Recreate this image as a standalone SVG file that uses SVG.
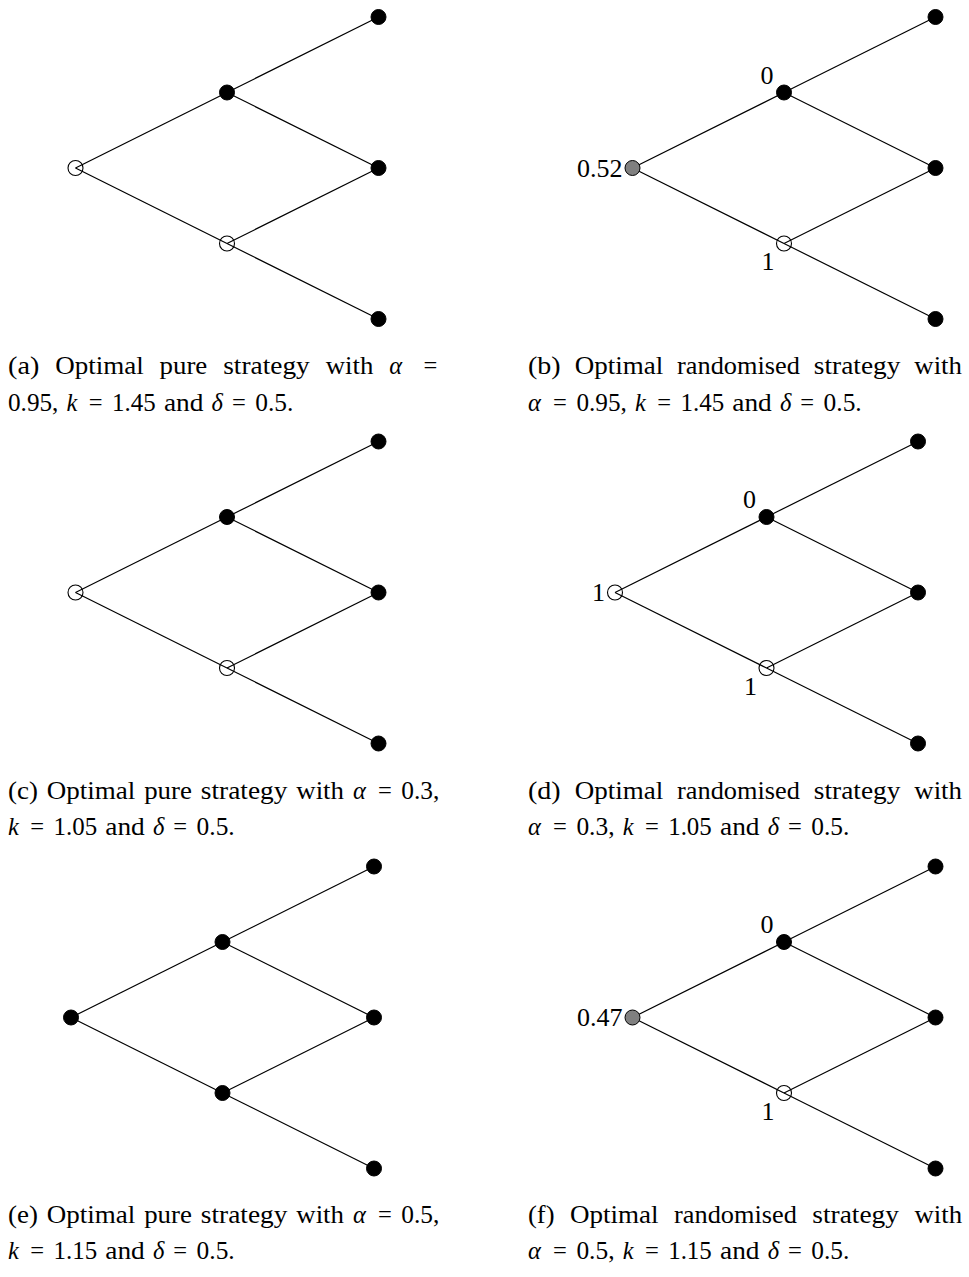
<svg xmlns="http://www.w3.org/2000/svg" width="969" height="1277" viewBox="0 0 969 1277">
<style>
.e{stroke:#000;stroke-width:1.2;fill:none}
.f{fill:#000;stroke:#000;stroke-width:1}
.h{fill:none;stroke:#000;stroke-width:1.1}
.g{fill:#808080;stroke:#000;stroke-width:1}
text{font-family:"Liberation Serif","Times New Roman",serif;fill:#000}
.cap{font-size:24.5px}
.lbl{font-size:26px}
.m{font-style:italic}
</style>
<defs>
<g id="edges">
<line x1="0" y1="0" x2="151.5" y2="-75.5"/>
<line x1="0" y1="0" x2="151.5" y2="75.5"/>
<line x1="151.5" y1="-75.5" x2="303" y2="-151"/>
<line x1="151.5" y1="-75.5" x2="303" y2="0"/>
<line x1="151.5" y1="75.5" x2="303" y2="0"/>
<line x1="151.5" y1="75.5" x2="303" y2="151"/>
</g>
</defs>

<!-- Panel a -->
<g id="panel-a" transform="translate(75.5,168)">
<g id="a-connectors" class="e"><use href="#edges"/></g>
<g id="a-root"><circle class="h" cx="0" cy="0" r="7.5"/></g>
<g id="a-up"><circle class="f" cx="151.5" cy="-75.5" r="7.5"/></g>
<g id="a-down"><circle class="h" cx="151.5" cy="75.5" r="7.5"/></g>
<g id="a-uu"><circle class="f" cx="303" cy="-151" r="7.5"/></g>
<g id="a-ud"><circle class="f" cx="303" cy="0" r="7.5"/></g>
<g id="a-dd"><circle class="f" cx="303" cy="151" r="7.5"/></g>
</g>

<!-- Panel b -->
<g id="panel-b" transform="translate(632.5,168)">
<g id="b-connectors" class="e"><use href="#edges"/></g>
<g id="b-root"><circle class="g" cx="0" cy="0" r="7.5"/><text class="lbl" x="-10" y="8.5" text-anchor="end">0.52</text></g>
<g id="b-up"><circle class="f" cx="151.5" cy="-75.5" r="7.5"/><text class="lbl" x="134.5" y="-84.5" text-anchor="middle">0</text></g>
<g id="b-down"><circle class="h" cx="151.5" cy="75.5" r="7.5"/><text class="lbl" x="135.5" y="102" text-anchor="middle">1</text></g>
<g id="b-uu"><circle class="f" cx="303" cy="-151" r="7.5"/></g>
<g id="b-ud"><circle class="f" cx="303" cy="0" r="7.5"/></g>
<g id="b-dd"><circle class="f" cx="303" cy="151" r="7.5"/></g>
</g>

<!-- Panel c -->
<g id="panel-c" transform="translate(75.5,592.5)">
<g id="c-connectors" class="e"><use href="#edges"/></g>
<g id="c-root"><circle class="h" cx="0" cy="0" r="7.5"/></g>
<g id="c-up"><circle class="f" cx="151.5" cy="-75.5" r="7.5"/></g>
<g id="c-down"><circle class="h" cx="151.5" cy="75.5" r="7.5"/></g>
<g id="c-uu"><circle class="f" cx="303" cy="-151" r="7.5"/></g>
<g id="c-ud"><circle class="f" cx="303" cy="0" r="7.5"/></g>
<g id="c-dd"><circle class="f" cx="303" cy="151" r="7.5"/></g>
</g>

<!-- Panel d -->
<g id="panel-d" transform="translate(615,592.5)">
<g id="d-connectors" class="e"><use href="#edges"/></g>
<g id="d-root"><circle class="h" cx="0" cy="0" r="7.5"/><text class="lbl" x="-10" y="8.5" text-anchor="end">1</text></g>
<g id="d-up"><circle class="f" cx="151.5" cy="-75.5" r="7.5"/><text class="lbl" x="134.5" y="-84.5" text-anchor="middle">0</text></g>
<g id="d-down"><circle class="h" cx="151.5" cy="75.5" r="7.5"/><text class="lbl" x="135.5" y="102" text-anchor="middle">1</text></g>
<g id="d-uu"><circle class="f" cx="303" cy="-151" r="7.5"/></g>
<g id="d-ud"><circle class="f" cx="303" cy="0" r="7.5"/></g>
<g id="d-dd"><circle class="f" cx="303" cy="151" r="7.5"/></g>
</g>

<!-- Panel e -->
<g id="panel-e" transform="translate(71,1017.5)">
<g id="e-connectors" class="e"><use href="#edges"/></g>
<g id="e-root"><circle class="f" cx="0" cy="0" r="7.5"/></g>
<g id="e-up"><circle class="f" cx="151.5" cy="-75.5" r="7.5"/></g>
<g id="e-down"><circle class="f" cx="151.5" cy="75.5" r="7.5"/></g>
<g id="e-uu"><circle class="f" cx="303" cy="-151" r="7.5"/></g>
<g id="e-ud"><circle class="f" cx="303" cy="0" r="7.5"/></g>
<g id="e-dd"><circle class="f" cx="303" cy="151" r="7.5"/></g>
</g>

<!-- Panel f -->
<g id="panel-f" transform="translate(632.5,1017.5)">
<g id="f-connectors" class="e"><use href="#edges"/></g>
<g id="f-root"><circle class="g" cx="0" cy="0" r="7.5"/><text class="lbl" x="-10" y="8.5" text-anchor="end">0.47</text></g>
<g id="f-up"><circle class="f" cx="151.5" cy="-75.5" r="7.5"/><text class="lbl" x="134.5" y="-84.5" text-anchor="middle">0</text></g>
<g id="f-down"><circle class="h" cx="151.5" cy="75.5" r="7.5"/><text class="lbl" x="135.5" y="102" text-anchor="middle">1</text></g>
<g id="f-uu"><circle class="f" cx="303" cy="-151" r="7.5"/></g>
<g id="f-ud"><circle class="f" cx="303" cy="0" r="7.5"/></g>
<g id="f-dd"><circle class="f" cx="303" cy="151" r="7.5"/></g>
</g>

<!-- Captions -->
<g id="captions" class="cap" lengthAdjust="spacingAndGlyphs">
<text y="374"><tspan x="8" textLength="31.3" lengthAdjust="spacingAndGlyphs">(a)</tspan><tspan x="55.2" textLength="88.5" lengthAdjust="spacingAndGlyphs">Optimal</tspan><tspan x="159.6" textLength="47.7" lengthAdjust="spacingAndGlyphs">pure</tspan><tspan x="223.2" textLength="86.6" lengthAdjust="spacingAndGlyphs">strategy</tspan><tspan x="325.7" textLength="47.7" lengthAdjust="spacingAndGlyphs">with</tspan><tspan x="389.3" class="m">α</tspan><tspan x="423.5">=</tspan></text>
<text y="411"><tspan x="8" textLength="50.4" lengthAdjust="spacingAndGlyphs">0.95,</tspan><tspan x="66.6" class="m">k</tspan><tspan x="88.8">=</tspan><tspan x="112.1" textLength="43.6" lengthAdjust="spacingAndGlyphs">1.45</tspan><tspan x="163.9" textLength="39.5" lengthAdjust="spacingAndGlyphs">and</tspan><tspan x="211.6" class="m">δ</tspan><tspan x="231.9">=</tspan><tspan x="255.2" textLength="38.1" lengthAdjust="spacingAndGlyphs">0.5.</tspan></text>
<text y="374"><tspan x="528" textLength="32.7" lengthAdjust="spacingAndGlyphs">(b)</tspan><tspan x="574.7" textLength="88.5" lengthAdjust="spacingAndGlyphs">Optimal</tspan><tspan x="677.1" textLength="122.7" lengthAdjust="spacingAndGlyphs">randomised</tspan><tspan x="813.8" textLength="86.6" lengthAdjust="spacingAndGlyphs">strategy</tspan><tspan x="914.3" textLength="47.7" lengthAdjust="spacingAndGlyphs">with</tspan></text>
<text y="411"><tspan x="528" class="m">α</tspan><tspan x="553.1">=</tspan><tspan x="576.4" textLength="50.4" lengthAdjust="spacingAndGlyphs">0.95,</tspan><tspan x="635" class="m">k</tspan><tspan x="657.2">=</tspan><tspan x="680.5" textLength="43.6" lengthAdjust="spacingAndGlyphs">1.45</tspan><tspan x="732.3" textLength="39.5" lengthAdjust="spacingAndGlyphs">and</tspan><tspan x="780" class="m">δ</tspan><tspan x="800.3">=</tspan><tspan x="823.6" textLength="38.1" lengthAdjust="spacingAndGlyphs">0.5.</tspan></text>

<text y="799"><tspan x="8" textLength="29.9" lengthAdjust="spacingAndGlyphs">(c)</tspan><tspan x="46.8" textLength="88.5" lengthAdjust="spacingAndGlyphs">Optimal</tspan><tspan x="144.2" textLength="47.7" lengthAdjust="spacingAndGlyphs">pure</tspan><tspan x="200.8" textLength="86.6" lengthAdjust="spacingAndGlyphs">strategy</tspan><tspan x="296.3" textLength="47.7" lengthAdjust="spacingAndGlyphs">with</tspan><tspan x="352.9" class="m">α</tspan><tspan x="378">=</tspan><tspan x="401.3" textLength="38.1" lengthAdjust="spacingAndGlyphs">0.3,</tspan></text>
<text y="835"><tspan x="8" class="m">k</tspan><tspan x="30.2">=</tspan><tspan x="53.5" textLength="43.6" lengthAdjust="spacingAndGlyphs">1.05</tspan><tspan x="105.3" textLength="39.5" lengthAdjust="spacingAndGlyphs">and</tspan><tspan x="153" class="m">δ</tspan><tspan x="173.3">=</tspan><tspan x="196.6" textLength="38.1" lengthAdjust="spacingAndGlyphs">0.5.</tspan></text>
<text y="799"><tspan x="528" textLength="32.7" lengthAdjust="spacingAndGlyphs">(d)</tspan><tspan x="574.7" textLength="88.5" lengthAdjust="spacingAndGlyphs">Optimal</tspan><tspan x="677.1" textLength="122.7" lengthAdjust="spacingAndGlyphs">randomised</tspan><tspan x="813.8" textLength="86.6" lengthAdjust="spacingAndGlyphs">strategy</tspan><tspan x="914.3" textLength="47.7" lengthAdjust="spacingAndGlyphs">with</tspan></text>
<text y="835"><tspan x="528" class="m">α</tspan><tspan x="553.1">=</tspan><tspan x="576.4" textLength="38.1" lengthAdjust="spacingAndGlyphs">0.3,</tspan><tspan x="622.7" class="m">k</tspan><tspan x="644.9">=</tspan><tspan x="668.2" textLength="43.6" lengthAdjust="spacingAndGlyphs">1.05</tspan><tspan x="720" textLength="39.5" lengthAdjust="spacingAndGlyphs">and</tspan><tspan x="767.7" class="m">δ</tspan><tspan x="788">=</tspan><tspan x="811.3" textLength="38.1" lengthAdjust="spacingAndGlyphs">0.5.</tspan></text>

<text y="1223"><tspan x="8" textLength="29.9" lengthAdjust="spacingAndGlyphs">(e)</tspan><tspan x="46.8" textLength="88.5" lengthAdjust="spacingAndGlyphs">Optimal</tspan><tspan x="144.2" textLength="47.7" lengthAdjust="spacingAndGlyphs">pure</tspan><tspan x="200.8" textLength="86.6" lengthAdjust="spacingAndGlyphs">strategy</tspan><tspan x="296.3" textLength="47.7" lengthAdjust="spacingAndGlyphs">with</tspan><tspan x="352.9" class="m">α</tspan><tspan x="378">=</tspan><tspan x="401.3" textLength="38.1" lengthAdjust="spacingAndGlyphs">0.5,</tspan></text>
<text y="1259"><tspan x="8" class="m">k</tspan><tspan x="30.2">=</tspan><tspan x="53.5" textLength="43.6" lengthAdjust="spacingAndGlyphs">1.15</tspan><tspan x="105.3" textLength="39.5" lengthAdjust="spacingAndGlyphs">and</tspan><tspan x="153" class="m">δ</tspan><tspan x="173.3">=</tspan><tspan x="196.6" textLength="38.1" lengthAdjust="spacingAndGlyphs">0.5.</tspan></text>
<text y="1223"><tspan x="528" textLength="26.6" lengthAdjust="spacingAndGlyphs">(f)</tspan><tspan x="570.1" textLength="88.5" lengthAdjust="spacingAndGlyphs">Optimal</tspan><tspan x="674.1" textLength="122.7" lengthAdjust="spacingAndGlyphs">randomised</tspan><tspan x="812.3" textLength="86.6" lengthAdjust="spacingAndGlyphs">strategy</tspan><tspan x="914.4" textLength="47.7" lengthAdjust="spacingAndGlyphs">with</tspan></text>
<text y="1259"><tspan x="528" class="m">α</tspan><tspan x="553.1">=</tspan><tspan x="576.4" textLength="38.1" lengthAdjust="spacingAndGlyphs">0.5,</tspan><tspan x="622.7" class="m">k</tspan><tspan x="644.9">=</tspan><tspan x="668.2" textLength="43.6" lengthAdjust="spacingAndGlyphs">1.15</tspan><tspan x="720" textLength="39.5" lengthAdjust="spacingAndGlyphs">and</tspan><tspan x="767.7" class="m">δ</tspan><tspan x="788">=</tspan><tspan x="811.3" textLength="38.1" lengthAdjust="spacingAndGlyphs">0.5.</tspan></text>
</g>
</svg>
